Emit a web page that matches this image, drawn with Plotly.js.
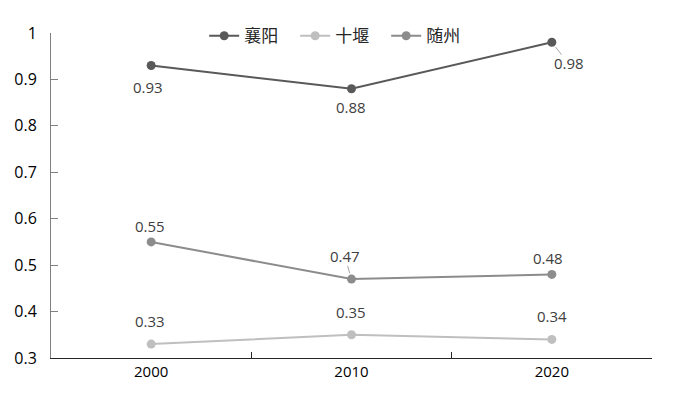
<!DOCTYPE html>
<html><head><meta charset="utf-8">
<script src="https://cdn.plot.ly/plotly-3.0.1.min.js"></script>
<style>html,body{margin:0;padding:0;background:#fff}#c{width:673px;height:398px}</style>
</head><body><div id="c"></div>
<script>
const years = ['2000', '2010', '2020'];
const seriesNames = ['襄阳', '十堰', '随州'];
const xiangyang = [0.93, 0.88, 0.98];
const shiyan = [0.33, 0.35, 0.34];
const suizhou = [0.55, 0.47, 0.48];
const yTicks = [0.3, 0.4, 0.5, 0.6, 0.7, 0.8, 0.9, 1];
const yTickText = ['0.3', '0.4', '0.5', '0.6', '0.7', '0.8', '0.9', '1'];

const seriesValues = [xiangyang, shiyan, suizhou];
const colors = ['#595959', '#bfbfbf', '#8c8c8c'];
const labelOffsets = [
  [[-3, 21], [-1, 18], [17, 21]],
  [[-1, -23], [-1, -23], [0, -23]],
  [[-1, -16], [-7, -23], [-4, -16]]
];
const leaders = [[false, false, true], [false, false, false], [false, true, false]];

const traces = seriesValues.map((vals, i) => ({
  x: years, y: vals, name: seriesNames[i], type: 'scatter', mode: 'lines+markers',
  line: {color: colors[i], width: 2}, marker: {color: colors[i], size: 9},
  hoverinfo: 'skip'
}));

const annotations = [];
seriesValues.forEach((vals, i) => {
  vals.forEach((v, j) => {
    const [dx, dy] = labelOffsets[i][j];
    // category axis: position by category index
    annotations.push({
      x: j, y: v, xref: 'x', yref: 'y', text: v.toFixed(2),
      showarrow: false, xshift: dx, yshift: -dy,
      font: {family: 'Open Sans, sans-serif', size: 15, color: '#404040'}
    });
    if (leaders[i][j]) {
      annotations.push({
        x: j, y: v, xref: 'x', yref: 'y', text: ' ',
        font: {size: 1}, borderpad: 0,
        showarrow: true, arrowhead: 0, arrowwidth: 1, arrowcolor: '#a6a6a6',
        ax: dx * 0.6, ay: dy * 0.62, standoff: 6
      });
    }
  });
});

const layout = {
  width: 673, height: 398,
  margin: {l: 51, r: 21, t: 33, b: 40, autoexpand: false},
  paper_bgcolor: '#fff', plot_bgcolor: '#fff',
  showlegend: true,
  legend: {orientation: 'h', x: 0.482, xanchor: 'center', y: 0.99, yanchor: 'middle',
    font: {family: 'Noto Sans CJK SC, sans-serif', size: 17, color: '#262626'},
    entrywidth: 46, tracegroupgap: 0, bgcolor: 'rgba(0,0,0,0)'},
  xaxis: {type: 'category', range: [-0.5, 2.5], showgrid: false, zeroline: false,
    showline: true, linecolor: '#262626', linewidth: 1,
    ticks: 'inside', ticklen: 6, tickcolor: '#262626', tickson: 'boundaries',
    tickfont: {family: 'Open Sans, sans-serif', size: 15, color: '#000'}},
  yaxis: {range: [0.3, 1], tickvals: yTicks, ticktext: yTickText, showgrid: false, zeroline: false,
    showline: true, linecolor: '#808080', linewidth: 1,
    ticks: 'inside', ticklen: 7, tickcolor: '#808080', ticklabelstandoff: 10,
    tickfont: {family: 'Open Sans, sans-serif', size: 16, color: '#000'}},
  annotations: annotations
};
Plotly.newPlot('c', traces, layout, {staticPlot: true, displayModeBar: false});
</script></body></html>
